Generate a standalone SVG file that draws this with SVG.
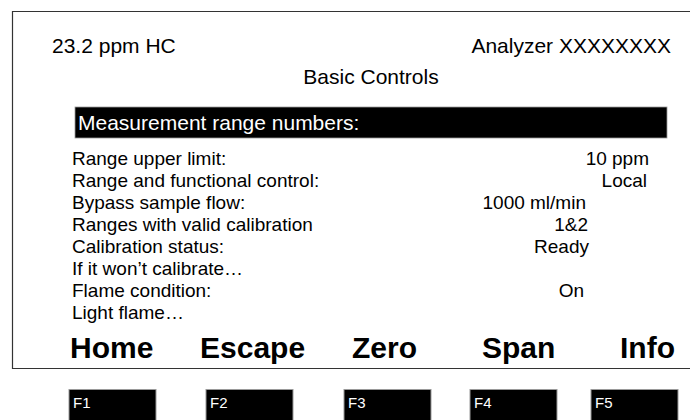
<svg xmlns="http://www.w3.org/2000/svg" width="690" height="420" viewBox="0 0 690 420">
<style>
text{font-family:"Liberation Sans",Arial,sans-serif;fill:#000}
.hd{font-size:21px}
.it{font-size:19px}
.btn{font-size:30px;font-weight:bold}
.fk rect{fill:#000;stroke:#999;stroke-width:1}
.fk text{fill:#fff;font-size:15px}
</style>
<rect width="690" height="420" fill="#fff"/>
<g id="screen">
<path d="M700 11.5 H12.5 V368.5 H700" fill="none" stroke="#333" stroke-width="1.2"/>
<text class="hd" x="52" y="53">23.2 ppm HC</text>
<text class="hd" x="671" y="53" text-anchor="end">Analyzer XXXXXXXX</text>
<text class="hd" x="371" y="84" text-anchor="middle">Basic Controls</text>
<rect x="75" y="107" width="592" height="31" fill="#000" stroke="#999" stroke-width="0.8"/>
<text x="78" y="130" style="font-size:21px;fill:#fff">Measurement range numbers:</text>
<text class="it" x="72" y="165">Range upper limit:</text>
<text class="it" x="72" y="187">Range and functional control:</text>
<text class="it" x="72" y="209">Bypass sample flow:</text>
<text class="it" x="72" y="231">Ranges with valid calibration</text>
<text class="it" x="72" y="253">Calibration status:</text>
<text class="it" x="72" y="275">If it won’t calibrate…</text>
<text class="it" x="72" y="297">Flame condition:</text>
<text class="it" x="72" y="319">Light flame…</text>
<text class="it" x="649" y="165" text-anchor="end">10 ppm</text>
<text class="it" x="647" y="187" text-anchor="end">Local</text>
<text class="it" x="586" y="209" text-anchor="end">1000 ml/min</text>
<text class="it" x="588" y="231" text-anchor="end">1&amp;2</text>
<text class="it" x="589" y="253" text-anchor="end">Ready</text>
<text class="it" x="584" y="297" text-anchor="end">On</text>
<text class="btn" x="70" y="358">Home</text>
<text class="btn" x="200" y="358">Escape</text>
<text class="btn" x="352" y="358">Zero</text>
<text class="btn" x="482" y="358">Span</text>
<text class="btn" x="620" y="358">Info</text>
</g>
<g id="F1" class="fk"><rect x="69" y="389.5" width="87" height="35"/><text x="73" y="408">F1</text></g>
<g id="F2" class="fk"><rect x="206" y="389.5" width="87" height="35"/><text x="210" y="408">F2</text></g>
<g id="F3" class="fk"><rect x="344" y="389.5" width="87" height="35"/><text x="348" y="408">F3</text></g>
<g id="F4" class="fk"><rect x="470" y="389.5" width="87" height="35"/><text x="474" y="408">F4</text></g>
<g id="F5" class="fk"><rect x="591" y="389.5" width="87" height="35"/><text x="595" y="408">F5</text></g>
</svg>
